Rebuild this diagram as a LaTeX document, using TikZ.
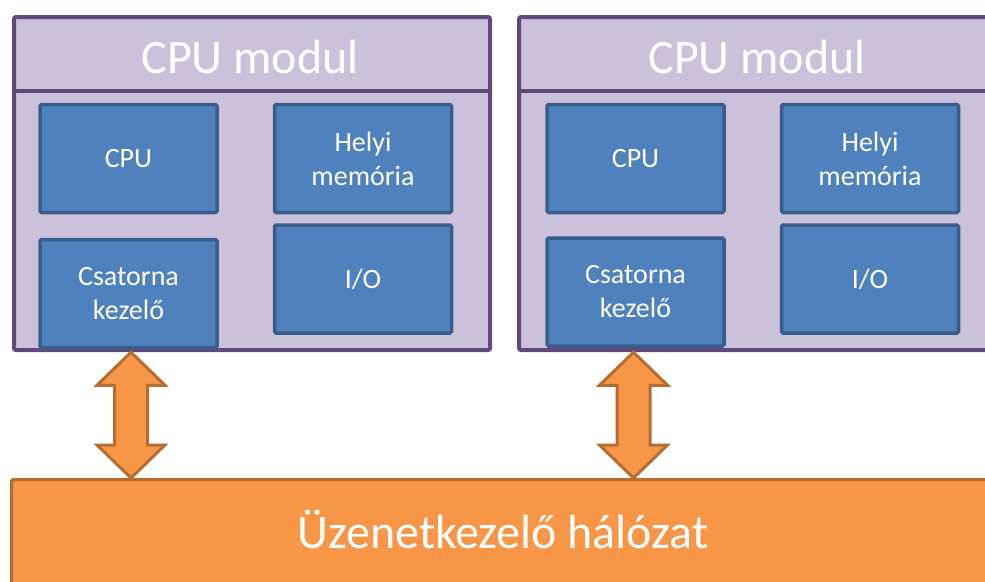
\documentclass[tikz,border=0pt]{standalone}
\usepackage{fontspec}
\setmainfont{Carlito}
\usetikzlibrary{calc}
\definecolor{modfill}{HTML}{CCC1DA}
\definecolor{moddraw}{HTML}{5F497A}
\definecolor{boxfill}{HTML}{4F81BD}
\definecolor{boxdraw}{HTML}{385D8A}
\definecolor{orfill}{HTML}{F79646}
\definecolor{ordraw}{HTML}{B66D31}
\begin{document}
\begin{tikzpicture}[x=1pt,y=-1pt,
  module/.style={draw=moddraw, fill=modfill, line width=4pt, rounded corners=2pt, anchor=north west,
    minimum width=476pt, minimum height=333pt, inner sep=0pt},
  sepline/.style={draw=moddraw, line width=4pt},
  unit/.style={draw=boxdraw, fill=boxfill, line width=3.5pt, rounded corners=1.5pt,
    minimum width=177pt, minimum height=108pt, inner sep=0pt, text=white,
    font=\fontsize{28}{34}\selectfont, align=center},
  title/.style={text=white, font=\fontsize{48}{58}\selectfont, anchor=base, inner sep=0pt},
  net/.style={draw=ordraw, fill=orfill, line width=3pt, rounded corners=1.5pt, anchor=north west,
    minimum width=1000pt, minimum height=140pt, inner sep=0pt},
  nettext/.style={text=white, font=\fontsize{48}{58}\selectfont, anchor=base, inner sep=0pt},
  fatarrow/.style={draw=ordraw, fill=orfill, line width=3pt, line join=miter}]
\useasboundingbox (0,0) rectangle (985,581);
\begin{scope}
\clip (0,0) rectangle (985,581);
% module 1
\node[module] (m1) at (12,15) {};
\draw[sepline] ($(m1.north west)+(0,75.5)$) coordinate (s1a) -- ($(m1.north east)+(0,75.5)$) coordinate (s1b);
\node[title] (t1) at (250,73.5) {CPU modul};
\node[unit] (cpu1) at (128.5,158.5) {CPU};
\node[unit] (mem1) at (363,158.5) {Helyi\\memória};
\node[unit] (io1) at (363,279) {I/O};
\node[unit] (cs1) at (128.5,293.5) {Csatorna\\kezelő};
% module 2
\node[module] (m2) at (517,15) {};
\draw[sepline] ($(m2.north west)+(0,75.5)$) coordinate (s2a) -- ($(m2.north east)+(0,75.5)$) coordinate (s2b);
\node[title] (t2) at (757,73.5) {CPU modul};
\node[unit] (cpu2) at (635.5,158.5) {CPU};
\node[unit] (mem2) at (870,158.5) {Helyi\\memória};
\node[unit] (io2) at (870,279) {I/O};
\node[unit] (cs2) at (635.5,292) {Csatorna\\kezelő};
% network
\node[net] (net) at (10,478) {};
\node[nettext] (nt) at (503,548) {Üzenetkezelő hálózat};
% arrows
\foreach \c/\dx/\dy in {cs1/2.5/3, cs2/-2/4.5} {
  \draw[fatarrow] let \p1=($(\c.south)+(\dx,\dy)$), \p2=(net.north) in
    (\x1,\y1) -- (\x1+34pt,\y1-33pt) -- (\x1+16.5pt,\y1-33pt) -- (\x1+16.5pt,\y2+33pt)
    -- (\x1+34pt,\y2+33pt) -- (\x1,\y2) -- (\x1-34pt,\y2+33pt) -- (\x1-16.5pt,\y2+33pt)
    -- (\x1-16.5pt,\y1-33pt) -- (\x1-34pt,\y1-33pt) -- cycle;
}
\end{scope}
\end{tikzpicture}
\end{document}
